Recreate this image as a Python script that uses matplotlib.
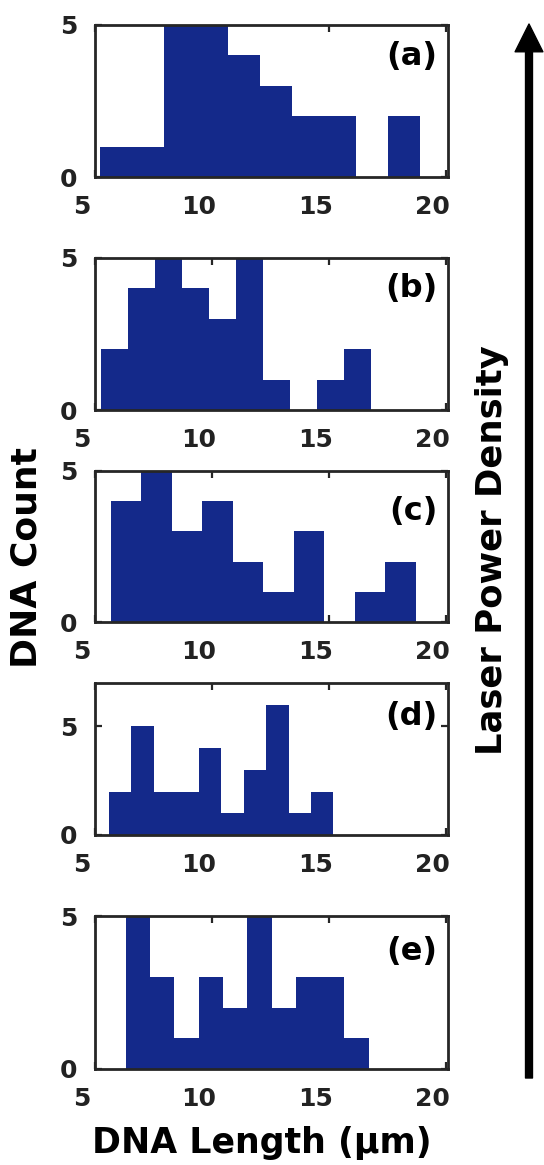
import numpy as np
import matplotlib
matplotlib.use("Agg")
import matplotlib.pyplot as plt
from matplotlib.patches import FancyArrowPatch
import matplotlib.transforms as mtransforms

# ---- data ----
panel_labels = ["(a)", "(b)", "(c)", "(d)", "(e)"]
bin_starts = [5.21, 5.24, 5.67, 5.60, 6.31]      # left edge of first bin (um)
bin_widths = [1.37, 1.155, 1.305, 0.96, 1.04]     # bin width (um)
counts_a = [1, 1, 5, 5, 4, 3, 2, 2, 0, 2]
counts_b = [2, 4, 5, 4, 3, 5, 1, 0, 1, 2]
counts_c = [4, 5, 3, 4, 2, 1, 3, 0, 1, 2]
counts_d = [2, 5, 2, 2, 4, 1, 3, 6, 1, 2]
counts_e = [5, 3, 1, 3, 2, 5, 2, 3, 3, 1]
all_counts = [counts_a, counts_b, counts_c, counts_d, counts_e]
y_max = [5, 5, 5, 7, 5]
x_ticks = [5, 10, 15, 20]
y_ticks = [0, 5]

BAR = "#14298a"
INK = "#222222"
FONT = "DejaVu Sans"

W, H = 544, 1165
fig = plt.figure(figsize=(W / 100, H / 100), dpi=100)

# panel frames in pixel coordinates (top, bottom)
frames = [(25, 177), (258, 410), (471, 622), (683, 835), (916, 1069)]
left_px, right_px = 95, 448
label_y = [0.79, 0.80, 0.73, 0.78, 0.765]

for i, (top, bot) in enumerate(frames):
    ax = fig.add_axes([left_px / W, 1 - bot / H, (right_px - left_px) / W, (bot - top) / H])
    cnt = np.array(all_counts[i])
    edges = bin_starts[i] + bin_widths[i] * np.arange(len(cnt) + 1)
    ax.bar(edges[:-1], cnt, width=np.diff(edges), align="edge", color=BAR,
           edgecolor="none", linewidth=0, zorder=2)
    ax.set_xlim(5, 20.1)
    ax.set_ylim(0, y_max[i])
    ax.set_xticks(x_ticks)
    ax.set_yticks(y_ticks)
    ax.tick_params(direction="in", length=5, width=1.6, color="#262626",
                   top=True, right=True, labelsize=18, labelcolor=INK, pad=13)
    for lab in ax.get_xticklabels() + ax.get_yticklabels():
        lab.set_fontweight("bold")
        lab.set_fontfamily(FONT)
    # tick labels in the reference sit a little left of their ticks
    offset = mtransforms.ScaledTranslation(-0.13, 0, fig.dpi_scale_trans)
    for lab in ax.get_xticklabels():
        lab.set_transform(lab.get_transform() + offset)
    for sp in ax.spines.values():
        sp.set_linewidth(2.0)
        sp.set_color("#262626")
        sp.set_zorder(3)
    ax.set_axisbelow(True)
    ax.text(0.97, label_y[i], panel_labels[i], transform=ax.transAxes,
            ha="right", va="center", fontsize=23, fontweight="bold",
            family=FONT, color="black", zorder=4)

fig.text(27 / W, 1 - 558 / H, "DNA Count", rotation=90, ha="center", va="center",
         fontsize=26, fontweight="bold", family=FONT, color="black")
fig.text(262 / W, 1 - 1153 / H, "DNA Length (μm)", ha="center", va="baseline",
         fontsize=25, fontweight="bold", family=FONT, color="black")
fig.text(492 / W, 1 - 550 / H, "Laser Power Density", rotation=90, ha="center",
         va="center", fontsize=25.5, fontweight="bold", family=FONT, color="black")

arrow = FancyArrowPatch((529 / W, 1 - 1078 / H), (529 / W, 1 - 24 / H),
                        transform=fig.transFigure,
                        arrowstyle="simple,head_length=1.0,head_width=1.0,tail_width=0.25",
                        mutation_scale=20, color="black", shrinkA=0, shrinkB=0)
fig.add_artist(arrow)

fig.savefig("out.png", dpi=100, facecolor="white")
